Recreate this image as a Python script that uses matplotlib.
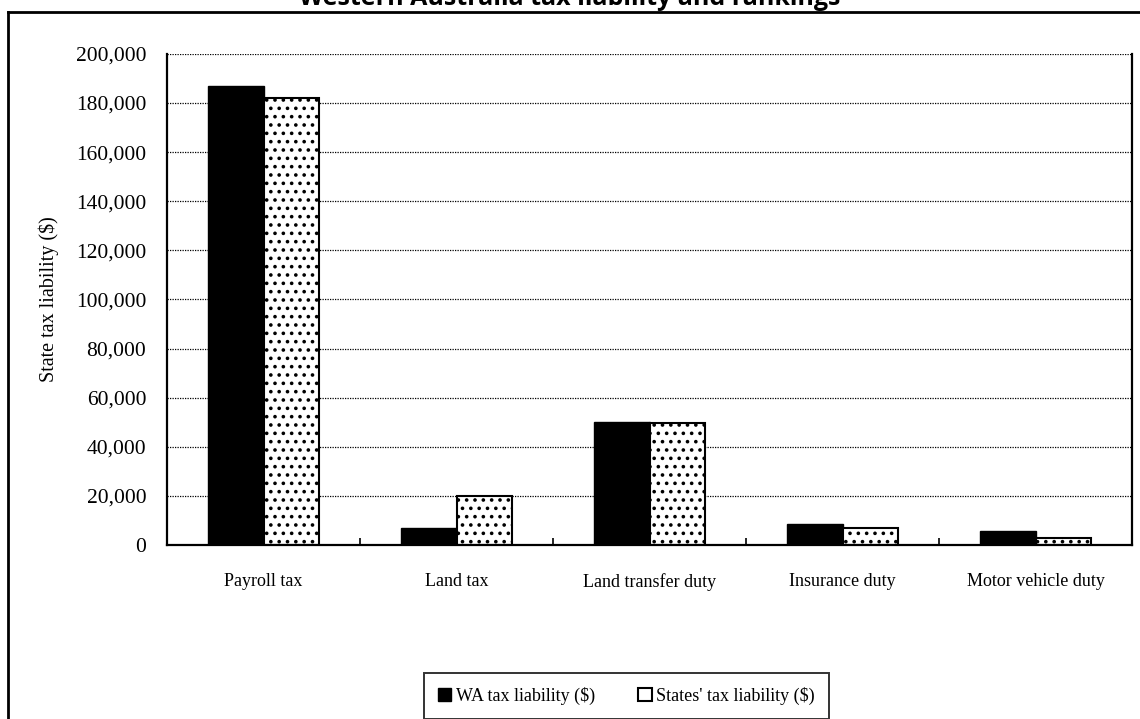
import matplotlib.pyplot as plt
import numpy as np
from matplotlib.lines import Line2D
from matplotlib.patches import Patch
from matplotlib.ticker import FuncFormatter, MultipleLocator

CATEGORIES = [
    "Payroll tax",
    "Land tax",
    "Land transfer duty",
    "Insurance duty",
    "Motor vehicle duty",
]
WA_LIABILITY = [187000, 7000, 50000, 8400, 5700]
STATES_LIABILITY = [182200, 20000, 49800, 6800, 3000]

SERIF = ["Liberation Serif", "DejaVu Serif"]
TITLE_FONT = ["Open Sans", "DejaVu Sans"]

plt.rcParams["hatch.linewidth"] = 1.4
plt.rcParams["hatch.color"] = "black"

fig = plt.figure(figsize=(11.4, 7.19), dpi=100)
ax = fig.add_axes([0.1465, 0.242, 0.8465, 0.683])

x = np.arange(len(CATEGORIES))
width = 0.29
ax.bar(x - width / 2, WA_LIABILITY, width, color="black", edgecolor="black", linewidth=1)
ax.bar(x + width / 2, STATES_LIABILITY, width, color="white", edgecolor="black",
       linewidth=1.5, hatch="..")

ax.set_xlim(-0.5, len(CATEGORIES) - 0.5)
ax.set_ylim(0, 200000)
ax.yaxis.set_major_locator(MultipleLocator(20000))
ax.yaxis.set_major_formatter(FuncFormatter(lambda v, _p: f"{int(v):,}"))
ax.yaxis.grid(True, linestyle=(0, (1, 1)), color="black", linewidth=0.9)
ax.set_axisbelow(True)

# category boundary ticks on the x axis, pointing up into the plot
ax.set_xticks(np.arange(len(CATEGORIES) + 1) - 0.5, minor=True)
ax.set_xticks(x)
ax.set_xticklabels(CATEGORIES, fontfamily=SERIF, fontsize=13)
ax.tick_params(axis="x", which="major", length=0, pad=20)
ax.tick_params(axis="x", which="minor", direction="in", length=5, width=1.2)
ax.tick_params(axis="y", length=0, pad=15, labelsize=15.5)
for label in ax.get_yticklabels():
    label.set_fontfamily(SERIF)

for side in ("left", "bottom", "right"):
    ax.spines[side].set_linewidth(1.6)
ax.spines["top"].set_visible(False)

ax.set_ylabel("State tax liability ($)", fontfamily=SERIF, fontsize=14.5, labelpad=12)

# outer chart frame (only the top and left edges fall inside the canvas)
fig.add_artist(Line2D([8 / 1140, 8 / 1140], [0, 1 - 11.5 / 719], transform=fig.transFigure,
                      color="black", linewidth=2))
fig.add_artist(Line2D([8 / 1140, 1], [1 - 11.5 / 719, 1 - 11.5 / 719], transform=fig.transFigure,
                      color="black", linewidth=2))

fig.text(0.5, 1 - 5 / 719, "Western Australia tax liability and rankings", ha="center",
         va="baseline", fontsize=18, fontweight="bold", fontfamily=TITLE_FONT)

handles = [
    Patch(facecolor="black", edgecolor="black", label="WA tax liability ($)"),
    Patch(facecolor="white", edgecolor="black", linewidth=1.5, label="States' tax liability ($)"),
]
leg = fig.legend(handles=handles, loc="center", bbox_to_anchor=(626.5 / 1140, 1 - 696 / 719),
                 ncol=2, frameon=True, fancybox=False, edgecolor="black",
                 prop={"family": SERIF, "size": 13}, handlelength=0.75, handleheight=0.75,
                 handletextpad=0.25, columnspacing=2.4, borderpad=0.75, borderaxespad=0)
leg.get_frame().set_linewidth(1.4)

fig.savefig("out.png", dpi=100, facecolor="white")
